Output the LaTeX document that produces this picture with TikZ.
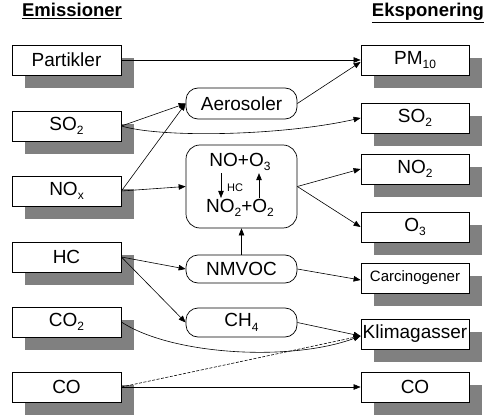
\documentclass[tikz,border=0pt]{standalone}
\usepackage{fontspec}
\setmainfont{Liberation Sans}
\usetikzlibrary{arrows.meta,shadows}

\definecolor{shadowgray}{HTML}{808080}
\newcommand{\lowsub}[1]{\raisebox{-0.45ex}{\fontsize{12}{14}\selectfont #1}}

\begin{document}
\begin{tikzpicture}[
        x=1pt,
        y=-1pt,
        >={Triangle[length=7pt,width=5.5pt]},
        every node/.style={font=\fontsize{19}{22}\selectfont, align=center, inner sep=0pt},
        emit/.style={draw, fill=white, line width=0.8pt, minimum width=109pt, minimum height=30pt,
            drop shadow={shadow xshift=13pt, shadow yshift=-13pt, fill=shadowgray, opacity=1}},
        expo/.style={emit, minimum width=108pt},
        proc/.style={draw, fill=white, line width=0.7pt, rounded corners=12pt, minimum width=111pt, minimum height=30pt},
        link/.style={->, line width=0.6pt}
    ]
        \useasboundingbox (0,0) rectangle (490,417);

        % titles
        \node[anchor=base, font=\fontsize{18.5}{22}\selectfont\bfseries] (emtitle) at (72,17) {\underline{Emissioner}};
        \node[anchor=base, font=\fontsize{18.5}{22}\selectfont\bfseries] (extitle) at (428,17) {\underline{Eksponering}};

        % emissions
        \node[emit] (partikler) at (66.5,60) {Partikler};
        \node[emit] (so2) at (66.5,126) {SO\lowsub{2}};
        \node[emit] (nox) at (66.5,191) {NO\lowsub{x}};
        \node[emit] (hc) at (66.5,257) {HC};
        \node[emit] (co2) at (66.5,322) {CO\lowsub{2}};
        \node[emit] (coe) at (66.5,387) {CO};

        % exposure
        \node[expo] (pm) at (415,60) {PM\lowsub{10}};
        \node[expo] (so2x) at (415,118) {SO\lowsub{2}};
        \node[expo] (no2) at (415,169) {NO\lowsub{2}};
        \node[expo] (o3) at (415,227) {O\lowsub{3}};
        \node[expo, font=\fontsize{15}{18}\selectfont] (carc) at (415,278) {Carcinogener};
        \node[expo] (klima) at (415,334) {Klimagasser};
        \node[expo] (cox) at (415,387) {CO};

        % processes
        \node[proc, minimum height=31pt] (aero) at (241.5,103.5) {Aerosoler};
        \node[proc, minimum height=83pt, rounded corners=14pt] (chem) at (241.5,186.5) {};
        \node (rx1) at (240,162) {NO+O\lowsub{3}};
        \node (rx2) at (240,208) {NO\lowsub{2}+O\lowsub{2}};
        \node[font=\fontsize{11}{13}\selectfont] (hclab) at (235,188) {HC};
        \draw[link] ([xshift=-19pt, yshift=-2pt]rx1.south) -- ([xshift=-19pt, yshift=1pt]rx2.north);
        \draw[link] ([xshift=19pt, yshift=1pt]rx2.north) -- ([xshift=19pt, yshift=-2pt]rx1.south);
        \node[proc, minimum height=28pt] (nmvoc) at (241.5,269) {NMVOC};
        \node[proc, minimum height=29pt] (ch4) at (241.5,322.5) {CH\lowsub{4}};

        % connections
        \draw[link] (partikler.east) -- (pm.west);
        \draw[link] (aero.east) -- ([yshift=-2pt]pm.west);
        \draw[link] (so2.east) -- (aero.west);
        \draw[link] (so2.east) .. controls +(40,12) and +(-80,18) .. (so2x.west);
        \draw[link] (nox.east) -- (aero.west);
        \draw[link] (nox.east) -- (chem.west);
        \draw[link] (chem.east) -- (no2.west);
        \draw[link] (chem.east) -- (o3.west);
        \draw[link] (nmvoc.north) -- (chem.south);
        \draw[link] (hc.east) -- (nmvoc.west);
        \draw[link] (hc.east) -- (ch4.west);
        \draw[link] (nmvoc.east) -- ([yshift=-2pt]carc.west);
        \draw[link] (ch4.east) -- ([yshift=-2pt]klima.west);
        \draw[link] (co2.east) .. controls +(50,33) and +(-70,26) .. ([yshift=-2pt]klima.west);
        \draw[link, dash pattern=on 3pt off 1.5pt] (coe.east) -- ([yshift=-2pt]klima.west);
        \draw[link] (coe.east) -- (cox.west);
    \end{tikzpicture}
\end{document}
